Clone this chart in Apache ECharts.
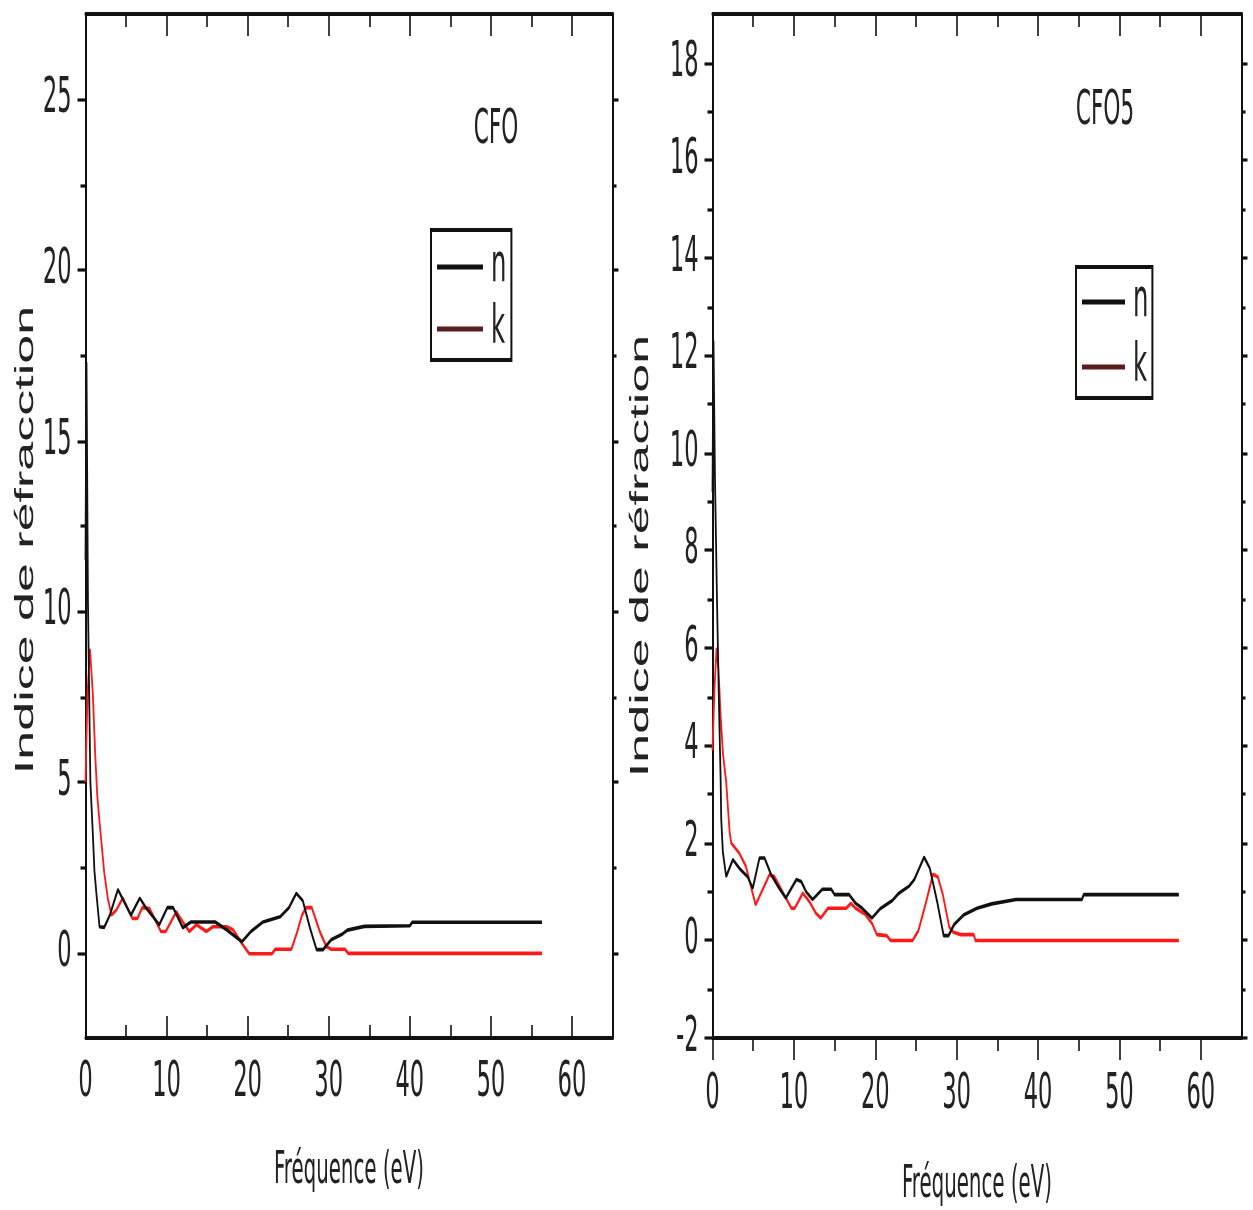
<!DOCTYPE html>
<html><head><meta charset="utf-8">
<script src="https://cdn.jsdelivr.net/npm/echarts@6/dist/echarts.min.js"></script>
<style>
html,body{margin:0;padding:0;background:#fff;overflow:hidden;}
#stage{position:absolute;left:0;top:0;width:1253px;height:605px;transform:scaleY(2);transform-origin:0 0;}
#chart{width:1253px;height:605px;}
</style></head><body>
<div id="stage"><div id="chart"></div></div>
<script>
// ---------- data ----------
const energyTicks = [0, 10, 20, 30, 40, 50, 60];
const energyMinorTicks = [5, 15, 25, 35, 45, 55];
const cfoYTicks = [0, 5, 10, 15, 20, 25];
const cfoYMinorTicks = [2.5, 7.5, 12.5, 17.5, 22.5];
const cfo5YTicks = [-2, 0, 2, 4, 6, 8, 10, 12, 14, 16, 18];
const cfo5YMinorTicks = [-1, 1, 3, 5, 7, 9, 11, 13, 15, 17];

// CFO : n
const cfoNx = [0, 0.12, 0.3, 0.6, 0.9, 1.1, 1.32, 1.73, 2.3, 3.0, 4.0, 5.6, 6.7, 7.5, 9.1, 10.1, 10.8, 12.0, 13.0, 16.0, 17.4, 19.3, 20.4, 21.9, 24.0, 25.1, 26.0, 26.8, 27.7, 28.5, 29.3, 30.3, 31.7, 32.3, 34.4, 40.0, 40.3, 56.3];
const cfoNy = [11.5, 17.3, 10.3, 5.0, 3.5, 2.4, 1.8, 0.76, 0.74, 1.1, 1.85, 1.1, 1.6, 1.3, 0.82, 1.32, 1.32, 0.73, 0.9, 0.9, 0.67, 0.32, 0.62, 0.9, 1.05, 1.32, 1.74, 1.52, 0.71, 0.09, 0.09, 0.38, 0.55, 0.66, 0.77, 0.79, 0.89, 0.89];
// CFO : k
const cfoKx = [0, 0.25, 0.55, 0.9, 1.2, 1.45, 1.73, 2.3, 2.75, 3.2, 3.8, 4.6, 5.8, 6.4, 7.0, 7.9, 9.3, 9.9, 11.2, 12.0, 12.8, 13.7, 14.9, 15.7, 17.4, 18.2, 19.4, 20.2, 23.0, 23.4, 25.4, 26.1, 26.7, 27.2, 27.9, 28.9, 29.7, 30.3, 32.0, 32.4, 56.3];
const cfoKy = [5.0, 7.6, 8.9, 7.6, 5.8, 4.6, 3.84, 2.37, 1.59, 1.1, 1.25, 1.6, 1.0, 1.0, 1.32, 1.29, 0.62, 0.62, 1.2, 0.9, 0.62, 0.82, 0.62, 0.76, 0.76, 0.67, 0.23, -0.03, -0.03, 0.1, 0.1, 0.6, 1.1, 1.32, 1.32, 0.62, 0.18, 0.1, 0.1, -0.02, -0.02];
// CFO5 : n
const cfo5Nx = [0, 0.12, 0.3, 0.55, 0.8, 1.0, 1.07, 1.27, 1.68, 2.5, 3.3, 4.3, 4.95, 5.77, 6.4, 7.2, 8.2, 9.0, 10.3, 10.9, 11.5, 12.3, 13.5, 14.6, 15.0, 16.8, 17.6, 18.4, 19.6, 20.6, 22.1, 22.9, 24.2, 24.8, 26.0, 26.7, 27.6, 28.4, 29.0, 29.7, 30.9, 32.5, 34.3, 37.3, 45.4, 45.6, 57.3];
const cfo5Ny = [9.2, 12.3, 9.5, 7.0, 4.8, 3.3, 2.5, 1.82, 1.31, 1.66, 1.48, 1.31, 1.07, 1.69, 1.69, 1.35, 1.07, 0.87, 1.25, 1.21, 1.0, 0.84, 1.05, 1.05, 0.94, 0.94, 0.76, 0.66, 0.46, 0.65, 0.82, 0.97, 1.12, 1.25, 1.71, 1.48, 0.8, 0.1, 0.1, 0.33, 0.53, 0.66, 0.75, 0.84, 0.84, 0.94, 0.94];
// CFO5 : k
const cfo5Kx = [0, 0.25, 0.5, 0.75, 1.0, 1.3, 1.68, 2.1, 2.3, 3.3, 4.1, 5.3, 7.0, 7.6, 8.6, 9.7, 10.1, 11.1, 11.9, 12.7, 13.3, 14.2, 16.4, 17.0, 17.6, 18.8, 19.6, 20.2, 21.4, 21.9, 24.6, 25.3, 26.2, 27.1, 27.7, 28.3, 29.1, 29.6, 30.5, 32.1, 32.3, 57.3];
const cfo5Ky = [3.9, 5.2, 6.0, 5.5, 4.6, 3.8, 3.26, 2.23, 2.0, 1.79, 1.52, 0.73, 1.35, 1.31, 1.0, 0.66, 0.66, 0.97, 0.8, 0.56, 0.46, 0.66, 0.66, 0.76, 0.66, 0.53, 0.35, 0.12, 0.1, 0.0, 0.0, 0.2, 0.76, 1.36, 1.3, 0.94, 0.27, 0.17, 0.12, 0.12, 0.0, 0.0];

// ---------- styling ----------
const FN = "'Liberation Sans Narrow','Arial Narrow','DejaVu Sans Condensed',sans-serif";
const FR = "'Liberation Sans',Arial,sans-serif";
const AX = '#111';
const TXT = '#222';
const zip = (xs, ys) => xs.map((x, i) => [x, ys[i]]);
const tickStyle = { color: AX, width: 1.6 };

function xAxes(g, bottomInside, margin, nameGap) {
  const base = { gridIndex: g, type: 'value', min: 0, max: 65, splitLine: { show: false },
    axisLine: { show: false, onZero: false }, axisLabel: { show: false }, axisTick: { show: false } };
  return [
    Object.assign({}, base, { position: 'bottom',
      axisLine: { show: true, onZero: false, lineStyle: { color: AX, width: 2 } },
      axisTick: { show: true, inside: bottomInside, length: 11, customValues: energyTicks, lineStyle: tickStyle },
      axisLabel: { show: true, customValues: energyTicks, margin: margin, fontSize: 25, fontFamily: FN, color: TXT },
      name: 'Fréquence (eV)', nameLocation: 'middle', nameGap: nameGap,
      nameTextStyle: { fontSize: 22, fontFamily: FN, color: TXT } }),
    Object.assign({}, base, { position: 'bottom',
      axisTick: { show: true, inside: bottomInside, length: 6.5, customValues: energyMinorTicks, lineStyle: tickStyle } }),
    Object.assign({}, base, { position: 'top',
      axisLine: { show: true, onZero: false, lineStyle: { color: AX, width: 2 } },
      axisTick: { show: true, inside: true, length: 11, customValues: energyTicks, lineStyle: tickStyle } }),
    Object.assign({}, base, { position: 'top',
      axisTick: { show: true, inside: true, length: 6.5, customValues: energyMinorTicks, lineStyle: tickStyle } })
  ];
}
function yAxes(g, min, max, ticks, minor, name, nameGap, namePad, margin) {
  const base = { gridIndex: g, type: 'value', min: min, max: max, splitLine: { show: false },
    axisLine: { show: false, onZero: false }, axisLabel: { show: false }, axisTick: { show: false } };
  return [
    Object.assign({}, base, { position: 'left',
      axisLine: { show: true, onZero: false, lineStyle: { color: AX, width: 2 } },
      axisTick: { show: true, inside: false, length: 8, customValues: ticks, lineStyle: tickStyle },
      axisLabel: { show: true, customValues: ticks, margin: margin, fontSize: 25, fontFamily: FN, color: TXT },
      name: name, nameLocation: 'middle', nameGap: nameGap,
      nameTextStyle: { fontSize: 26, fontFamily: FR, color: TXT, padding: [0, namePad, 0, 0] } }),
    Object.assign({}, base, { position: 'left',
      axisTick: { show: true, inside: false, length: 5, customValues: minor, lineStyle: tickStyle } }),
    Object.assign({}, base, { position: 'right',
      axisLine: { show: true, onZero: false, lineStyle: { color: AX, width: 2 } },
      axisTick: { show: true, inside: false, length: 6, customValues: ticks, lineStyle: tickStyle } }),
    Object.assign({}, base, { position: 'right',
      axisTick: { show: true, inside: false, length: 4, customValues: minor, lineStyle: tickStyle } })
  ];
}
function legend(left, top, iw, gap, pad) {
  return { left: left, top: top, orient: 'vertical', icon: 'rect', itemWidth: iw, itemHeight: 2.5,
    itemGap: gap, padding: pad, borderColor: AX, borderWidth: 2, backgroundColor: '#fff',
    selectedMode: false,
    textStyle: { fontSize: 27, fontFamily: FN, color: TXT, padding: [0, 0, 0, 3] },
    data: [ { name: 'n', itemStyle: { color: '#111' } }, { name: 'k', itemStyle: { color: '#5a1e1e' } } ] };
}
function line(name, xi, yi, data, color, z) {
  return { type: 'line', name: name, xAxisIndex: xi, yAxisIndex: yi, data: data, symbol: 'none',
    showSymbol: false, z: z, lineStyle: { color: color, width: 1.8 }, itemStyle: { color: color } };
}

const chart = echarts.init(document.getElementById('chart'), null, { renderer: 'canvas', devicePixelRatio: 2 });
chart.setOption({
  animation: false,
  backgroundColor: '#fff',
  grid: [
    { left: 85.5, top: 7, width: 527, height: 512, outerBoundsMode: 'none', containLabel: false },
    { left: 712.5, top: 7, width: 529, height: 512, outerBoundsMode: 'none', containLabel: false }
  ],
  xAxis: xAxes(0, true, 10, 56).concat(xAxes(1, false, 16, 63)),
  yAxis: yAxes(0, -2.5, 27.5, cfoYTicks, cfoYMinorTicks, 'Indice de réfracction', 46.5, 14, 14)
    .concat(yAxes(1, -2, 19, cfo5YTicks, cfo5YMinorTicks, 'Indice de réfraction', 58.5, 30, 14)),
  legend: [ legend(431, 115, 46, 4, [5, 5, 2, 6]), legend(1076, 133.5, 43, 5.5, [4, 4, 2, 6]) ],
  graphic: [
    { type: 'text', x: 496, y: 65.5, style: { text: 'CFO', font: "24px " + FN, fill: TXT, align: 'center', verticalAlign: 'middle' } },
    { type: 'text', x: 1105, y: 56, style: { text: 'CFO5', font: "24px " + FN, fill: TXT, align: 'center', verticalAlign: 'middle' } }
  ],
  series: [
    line('k', 0, 0, zip(cfoKx, cfoKy), '#ff1a1a', 2),
    line('n', 0, 0, zip(cfoNx, cfoNy), '#111111', 3),
    line('k', 4, 4, zip(cfo5Kx, cfo5Ky), '#ff1a1a', 2),
    line('n', 4, 4, zip(cfo5Nx, cfo5Ny), '#111111', 3)
  ]
});
</script>
</body></html>
